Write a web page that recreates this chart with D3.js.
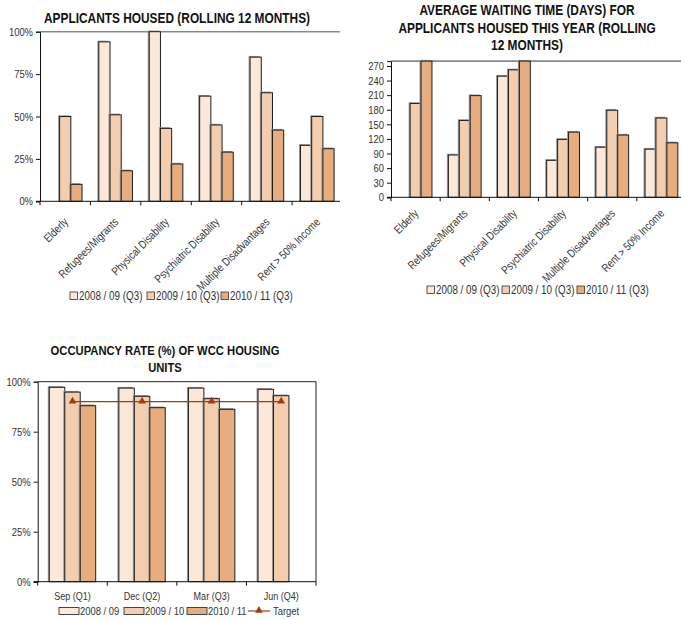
<!DOCTYPE html>
<html>
<head>
<meta charset="utf-8">
<script src="https://cdn.jsdelivr.net/npm/d3@7"></script>
<style>
  html, body { margin: 0; padding: 0; background: #fff; }
  svg { display: block; }
  text { font-family: "Liberation Sans", Arial, sans-serif; fill: #333; }
  .title { font-weight: bold; font-size: 14.5px; fill: #111; }
</style>
</head>
<body>
<svg id="chart" width="681" height="619"></svg>
<script>
// ---- data ----
const groups = ["Elderly", "Refugees/Migrants", "Physical Disability", "Psychiatric Disability", "Multiple Disadvantages", "Rent > 50% Income"];
const housedSeries = ["2008 / 09 (Q3)", "2009 / 10 (Q3)", "2010 / 11 (Q3)"];
const housed0809 = [0, 0.94, 1.00, 0.62, 0.85, 0.33];
const housed0910 = [0.50, 0.51, 0.43, 0.45, 0.64, 0.50];
const housed1011 = [0.10, 0.18, 0.22, 0.29, 0.42, 0.31];

const wait0809 = [0, 87, 249, 76, 103, 99];
const wait0910 = [193, 158, 262, 119, 179, 163];
const wait1011 = [295, 209, 292, 134, 128, 112];
const waitTicks = [0, 30, 60, 90, 120, 150, 180, 210, 240, 270];

const quarters = ["Sep (Q1)", "Dec (Q2)", "Mar (Q3)", "Jun (Q4)"];
const occSeries = ["2008 / 09", "2009 / 10", "2010 / 11"];
const occ0809 = [0.972, 0.968, 0.968, 0.962];
const occ0910 = [0.948, 0.927, 0.915, 0.930];
const occ1011 = [0.880, 0.870, 0.862, null];
const occTarget = [0.90, 0.90, 0.90, 0.90];
const pctTicks = [0, 0.25, 0.5, 0.75, 1];

const colors = ["#fbe8d9", "#f3cdae", "#e7ad7e"];
const targetColor = "#a33d0d";
const NARROW = 0.82;   // horizontal squeeze giving a condensed face

const svg = d3.select("#chart");

// Clustered column chart with a 150% gap between category groups
function columnChart(g, cfg) {
  const x = d3.scaleBand().domain(cfg.cats).range([cfg.x0, cfg.x1]).padding(0);
  const bw = x.bandwidth();
  const xs = d3.scaleBand().domain(d3.range(cfg.series.length)).range([bw / 6, bw * 5 / 6]).padding(0);
  const y = d3.scaleLinear().domain([0, cfg.max]).range([cfg.y0, cfg.y1]);

  g.append("line").attr("x1", cfg.x0).attr("x2", cfg.x1).attr("y1", y(cfg.max)).attr("y2", y(cfg.max))
    .attr("stroke", cfg.frame ? "#222" : "#888").attr("stroke-width", cfg.frame ? 1 : 1.6);
  if (cfg.frame) {
    g.append("line").attr("x1", cfg.x1).attr("x2", cfg.x1).attr("y1", y(cfg.max)).attr("y2", y(0))
      .attr("stroke", "#222");
  }

  cfg.series.forEach((vals, si) => {
    const bars = g.append("g");
    cfg.cats.forEach((c, i) => {
      const v = vals[i];
      if (v == null || v <= 0) return;
      const vv = Math.min(v, cfg.max);
      const bx = x(c) + xs(si);
      const by = y(vv);
      const h = y(0) - by;
      bars.append("rect").attr("x", bx - 1.5).attr("y", by - 1.2).attr("width", xs.bandwidth())
        .attr("height", h + 1.2).attr("fill", "#9a9a9a");
      bars.append("rect").attr("x", bx).attr("y", by).attr("width", xs.bandwidth()).attr("height", h)
        .attr("fill", colors[si]).attr("stroke", "#1e1e1e").attr("stroke-width", 1);
    });
  });

  const yAxis = d3.axisLeft(y).tickValues(cfg.ticks).tickFormat(cfg.fmt).tickSize(4).tickPadding(3);
  const ya = g.append("g").attr("transform", `translate(${cfg.x0},0)`).call(yAxis);
  ya.select(".domain").attr("stroke", "#111");
  ya.selectAll(".tick line").attr("stroke", "#111");
  ya.selectAll(".tick text").attr("class", "nar").style("font-size", "11.5px")
    .attr("fill", "#333").attr("font-family", null);

  const xa = g.append("g").attr("transform", `translate(0,${y(0)})`);
  xa.append("line").attr("x1", cfg.x0 - 4).attr("x2", cfg.x1).attr("y1", 0).attr("y2", 0).attr("stroke", "#111");
  const bounds = cfg.cats.map(c => x(c)).concat([cfg.x1]);
  xa.selectAll("line.tk").data(bounds).enter().append("line").attr("class", "tk")
    .attr("x1", d => d).attr("x2", d => d).attr("y1", 0).attr("y2", 4).attr("stroke", "#111");

  if (cfg.rotate) {
    xa.selectAll("text.cat").data(cfg.cats).enter().append("text").attr("class", "cat nar")
      .attr("transform", d => `translate(${x(d) + bw / 2 + 0.7},${cfg.labelDrop}) rotate(-45)`)
      .attr("text-anchor", "end").attr("dy", "0.35em")
      .style("font-size", "11.5px").text(d => d);
  } else {
    xa.selectAll("text.cat").data(cfg.cats).enter().append("text").attr("class", "cat nar")
      .attr("x", d => x(d) + bw / 2).attr("y", 18.5)
      .attr("text-anchor", "middle").style("font-size", "11px").text(d => d);
  }
  return { x, xs, y, bw };
}

function title(lines, cx, y0, lh, size) {
  lines.forEach((l, i) => svg.append("text").attr("class", "title nar").attr("text-anchor", "middle")
    .style("font-size", size + "px").attr("x", cx).attr("y", y0 + i * lh).text(l));
}

function squareLegend(names, xs, y) {
  const lg = svg.append("g");
  names.forEach((n, i) => {
    lg.append("rect").attr("x", xs[i]).attr("y", y - 8).attr("width", 7.5).attr("height", 7.5)
      .attr("fill", colors[i]).attr("stroke", "#333").attr("stroke-width", 0.8);
    lg.append("text").attr("class", "nar").attr("x", xs[i] + 9).attr("y", y)
      .style("font-size", "12px").text(n);
  });
}

// ---- Chart 1: applicants housed ----
svg.append("defs").append("clipPath").attr("id", "c1")
  .append("rect").attr("x", 0).attr("y", 0).attr("width", 340).attr("height", 619);
title(["APPLICANTS HOUSED (ROLLING 12 MONTHS)"], 177, 23, 16, 14.5);
columnChart(svg.append("g").attr("clip-path", "url(#c1)"), {
  cats: groups, series: [housed0809, housed0910, housed1011],
  x0: 40, x1: 342.5, y0: 201.3, y1: 31.7, max: 1,
  ticks: pctTicks, fmt: d3.format(".0%"), rotate: true, labelDrop: 18.6
});
squareLegend(housedSeries, [70, 147, 221], 300);

// ---- Chart 2: average waiting time ----
title(["AVERAGE WAITING TIME (DAYS) FOR", "APPLICANTS HOUSED THIS YEAR (ROLLING", "12 MONTHS)"], 527, 15, 17.5, 14.5);
columnChart(svg.append("g"), {
  cats: groups, series: [wait0809, wait0910, wait1011],
  x0: 391, x1: 686, y0: 197.3, y1: 61.1, max: 280,
  ticks: waitTicks, fmt: d3.format("d"), rotate: true, labelDrop: 14
});
squareLegend(housedSeries, [427, 502, 577], 294);

// ---- Chart 3: occupancy rate ----
title(["OCCUPANCY RATE (%) OF WCC HOUSING", "UNITS"], 165, 355, 17, 13.7);
const oc = columnChart(svg.append("g"), {
  cats: quarters, series: [occ0809, occ0910, occ1011],
  x0: 37.7, x1: 316, y0: 581.7, y1: 381.7, max: 1,
  ticks: pctTicks, fmt: d3.format(".0%"), rotate: false, frame: true
});

// target line through the middle column of each quarter
const tx = q => oc.x(q) + oc.bw / 2;
const line = d3.line().x((d, i) => tx(quarters[i])).y(d => oc.y(d));
svg.append("path").datum(occTarget).attr("d", line).attr("fill", "none")
  .attr("stroke", targetColor).attr("stroke-width", 1.2);
const tri = d3.symbol().type(d3.symbolTriangle).size(26);
svg.selectAll("path.tgt").data(occTarget).enter().append("path").attr("class", "tgt")
  .attr("transform", (d, i) => `translate(${tx(quarters[i])},${oc.y(d) - 0.5})`)
  .attr("d", tri).attr("fill", targetColor);

const lg3 = svg.append("g");
const lx = [59, 124, 187];
occSeries.forEach((n, i) => {
  lg3.append("rect").attr("x", lx[i]).attr("y", 607.5).attr("width", 20).attr("height", 7)
    .attr("fill", colors[i]).attr("stroke", "#333").attr("stroke-width", 0.9);
  lg3.append("text").attr("class", "nar").attr("x", lx[i] + 21).attr("y", 615)
    .style("font-size", "11.5px").text(n);
});
lg3.append("line").attr("x1", 248).attr("x2", 270).attr("y1", 611).attr("y2", 611)
  .attr("stroke", targetColor).attr("stroke-width", 1.2);
lg3.append("path").attr("transform", "translate(259,610.5)").attr("d", tri).attr("fill", targetColor);
lg3.append("text").attr("class", "nar").attr("x", 273).attr("y", 615)
  .style("font-size", "11.5px").text("Target");

// condense every label horizontally around its own anchor
svg.selectAll("text.nar").each(function () {
  const t = d3.select(this);
  const x = +t.attr("x") || 0, y = +t.attr("y") || 0;
  const base = t.attr("transform") || "";
  t.attr("x", 0).attr("y", 0)
    .attr("transform", `${base} translate(${x},${y}) scale(${NARROW},1)`);
});
</script>
</body>
</html>
